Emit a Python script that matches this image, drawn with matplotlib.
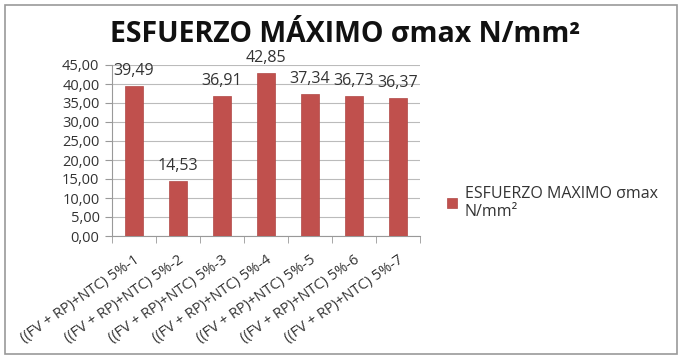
import matplotlib
matplotlib.use("Agg")
import matplotlib.pyplot as plt
from matplotlib.patches import Rectangle

categories = ["((FV + RP)+NTC) 5%-1", "((FV + RP)+NTC) 5%-2", "((FV + RP)+NTC) 5%-3",
              "((FV + RP)+NTC) 5%-4", "((FV + RP)+NTC) 5%-5", "((FV + RP)+NTC) 5%-6",
              "((FV + RP)+NTC) 5%-7"]
values = [39.49, 14.53, 36.91, 42.85, 37.34, 36.73, 36.37]
series_name = "ESFUERZO MAXIMO σmax\nN/mm²"
title = "ESFUERZO MÁXIMO σmax N/mm²"
yticks = [0, 5, 10, 15, 20, 25, 30, 35, 40, 45]

plt.rcParams['font.family'] = ['Open Sans', 'DejaVu Sans']

fig = plt.figure(figsize=(6.81, 3.56), dpi=100)
ax = fig.add_axes([112/681, 1-236/356, 308/681, 171/356])

color = "#C0504D"
x = list(range(len(values)))
bars = ax.bar(x, values, width=0.4, color=color, edgecolor="#B04845", linewidth=0.5,
              label=series_name, zorder=3)

ax.set_xlim(-0.5, len(values) - 0.5)
ax.set_ylim(0, 45)
ax.set_yticks(yticks)
ax.set_yticklabels([f"{v:.2f}".replace(".", ",") for v in yticks], fontsize=10.5, color="#333333")
ax.yaxis.grid(True, color="#BBBBBB", linewidth=0.8, zorder=0)

for s in ["top", "right"]:
    ax.spines[s].set_visible(False)
for s in ["left", "bottom"]:
    ax.spines[s].set_color("#999999")
    ax.spines[s].set_linewidth(0.8)

ax.tick_params(axis="y", length=5, color="#999999", pad=4)
ax.set_xticks(x)
ax.set_xticklabels(categories, rotation=35, ha="right", rotation_mode="anchor",
                   fontsize=10.5, color="#333333")
ax.tick_params(axis="x", length=0, pad=12)
ax.set_xticks([i - 0.5 for i in range(len(values) + 1)], minor=True)
ax.tick_params(axis="x", which="minor", length=5, color="#999999")

for xi, v in zip(x, values):
    ax.annotate(f"{v:.2f}".replace(".", ","), (xi, v), xytext=(0, 5),
                textcoords="offset points", ha="center", va="bottom",
                fontsize=11.5, color="#333333", annotation_clip=False)

fig.text(345/681, 1-35/356, title, ha="center", va="center", fontsize=20.5,
         fontweight="bold", color="#111111")

leg = ax.legend(loc="center left", bbox_to_anchor=(433/681, 1-203/356),
                bbox_transform=fig.transFigure, frameon=False, fontsize=11.5,
                handlelength=0.6, handleheight=0.6, handletextpad=0.5,
                labelspacing=0.2)
for t in leg.get_texts():
    t.set_color("#333333")
    t.set_linespacing(1.1)

fig.patches.append(Rectangle((5/681, 2/356), 672/681, 349/356, transform=fig.transFigure,
                             fill=False, edgecolor="#999999", linewidth=1.2))

fig.savefig("out.png", dpi=100)
